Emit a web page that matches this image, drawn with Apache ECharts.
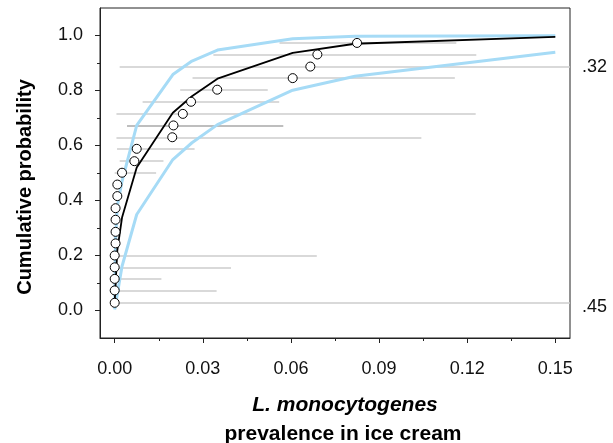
<!DOCTYPE html>
<html>
<head>
<meta charset="utf-8">
<script src="https://cdn.jsdelivr.net/npm/echarts@6/dist/echarts.min.js"></script>
<style>
  html, body { margin: 0; padding: 0; background: #fff; }
  #chart { width: 613px; height: 443px; }
</style>
</head>
<body>
<div id="chart"></div>
<script>
// observed prevalence (x) at each plotting position (y)
var cumProb = [0.028, 0.073, 0.115, 0.157, 0.200, 0.244, 0.286, 0.330, 0.372, 0.416, 0.458, 0.501,
    0.543, 0.588, 0.630, 0.673, 0.715, 0.759, 0.803, 0.845, 0.887, 0.931, 0.973];
var prevalence = [0, 0, 0, 0, 0, 0.0003, 0.0003, 0.0003, 0.0003, 0.0009, 0.0009, 0.0025,
    0.0067, 0.0075, 0.0196, 0.0200, 0.0232, 0.0260, 0.0349, 0.0606, 0.0666, 0.0690, 0.0825];
// interval of each observation (null = none drawn)
var intervalLo = [0, 0, 0, 0, 0, null, null, null, null, null, null, 0,
    0.0017, 0.0008, 0.0006, 0.0042, 0.0006, 0.0095, 0.0223, 0.0265, 0.0017, 0.0336, 0.0561];
var intervalHi = [0.155, 0.0347, 0.0159, 0.0396, 0.0688, null, null, null, null, null, null, 0.0141,
    0.0166, 0.0272, 0.1044, 0.0574, 0.1229, 0.0560, 0.0521, 0.1158, 0.155, 0.1231, 0.1163];
var intervalText = ['.45', '', '', '', '', '', '', '', '', '', '', '', '', '', '', '', '', '', '', '', '.32', '', ''];

// fitted distribution and its bounds
var fitX = [0, 0.0009, 0.0025, 0.0075, 0.0198, 0.0263, 0.035, 0.0606, 0.0818, 0.15];
var fitY = [0.03, 0.22, 0.338, 0.52, 0.719, 0.779, 0.843, 0.937, 0.970, 0.995];
var upperX = [0, 0.0003, 0.0009, 0.0025, 0.0075, 0.0198, 0.0263, 0.035, 0.0606, 0.0818, 0.15];
var upperY = [0.02, 0.26, 0.38, 0.47, 0.673, 0.858, 0.907, 0.947, 0.988, 0.997, 0.999];
var lowerX = [0, 0.0025, 0.0075, 0.0198, 0.0263, 0.035, 0.0606, 0.0818, 0.15];
var lowerY = [0.004, 0.161, 0.349, 0.549, 0.61, 0.676, 0.801, 0.852, 0.939];

var xMajor = [0, 0.03, 0.06, 0.09, 0.12, 0.15];
var xMinor = [0.015, 0.045, 0.075, 0.105, 0.135];
var yMajor = [0, 0.2, 0.4, 0.6, 0.8, 1.0];
var yMinor = [0.1, 0.3, 0.5, 0.7, 0.9];

var FONT = "'Liberation Sans', Arial, sans-serif";

function zip(xs, ys) {
    var ret = [];
    for (var i = 0; i < xs.length; i++) {
        ret.push([xs[i], ys[i]]);
    }
    return ret;
}

function GetIntervalData() {
    var ret = [];
    for (var i = 0; i < cumProb.length; i++) {
        if (intervalLo[i] == null) continue;
        ret.push({
            coords: [[intervalLo[i], cumProb[i]], [intervalHi[i], cumProb[i]]],
            lineStyle: { color: i === 15 ? '#a8a8a8' : '#cdcdcd' }
        });
    }
    return ret;
}

var myChart = echarts.init(document.getElementById('chart'));
var option = {
    animation: false,
    grid: {
        left: 100, right: 43, top: 8, bottom: 105,
        show: true, borderColor: '#222', borderWidth: 1, backgroundColor: '#fff'
    },
    xAxis: [
        {
            type: 'value', min: -0.005, max: 0.155,
            axisLine: { show: true, onZero: false, lineStyle: { color: '#222' } },
            axisTick: { show: true, customValues: xMajor, length: 5, lineStyle: { color: '#222' } },
            axisLabel: {
                customValues: xMajor, margin: 22, fontSize: 18, fontFamily: FONT, color: '#111',
                formatter: function (v) { return v.toFixed(2); }
            },
            splitLine: { show: false }
        },
        {
            type: 'value', min: -0.005, max: 0.155, position: 'bottom',
            axisLine: { show: false, onZero: false },
            axisTick: { show: true, customValues: xMinor, length: 3, lineStyle: { color: '#222' } },
            axisLabel: { show: false },
            splitLine: { show: false }
        }
    ],
    yAxis: [
        {
            type: 'value', min: -0.1, max: 1.1,
            axisLine: { show: true, onZero: false, lineStyle: { color: '#222' } },
            axisTick: { show: true, customValues: yMajor, length: 5, lineStyle: { color: '#222' } },
            axisLabel: {
                customValues: yMajor, margin: 17, fontSize: 18, fontFamily: FONT, color: '#111',
                formatter: function (v) { return v.toFixed(1); }
            },
            splitLine: { show: false }
        },
        {
            type: 'value', min: -0.1, max: 1.1, position: 'left',
            axisLine: { show: false, onZero: false },
            axisTick: { show: true, customValues: yMinor, length: 3, lineStyle: { color: '#222' } },
            axisLabel: { show: false },
            splitLine: { show: false }
        }
    ],
    graphic: [
        {
            type: 'text', x: 25, y: 187, rotation: Math.PI / 2,
            style: {
                text: 'Cumulative probability', fontSize: 20, fontWeight: 'bold', fontFamily: FONT,
                fill: '#000', align: 'center', verticalAlign: 'middle'
            }
        },
        {
            type: 'text', x: 345, y: 405,
            style: {
                text: 'L. monocytogenes', fontSize: 21, fontWeight: 'bold', fontStyle: 'italic',
                fontFamily: FONT, fill: '#000', align: 'center', verticalAlign: 'middle'
            }
        },
        {
            type: 'text', x: 343, y: 434,
            style: {
                text: 'prevalence in ice cream', fontSize: 21, fontWeight: 'bold',
                fontFamily: FONT, fill: '#000', align: 'center', verticalAlign: 'middle'
            }
        }
    ],
    series: [
        {
            type: 'lines', coordinateSystem: 'cartesian2d', xAxisIndex: 0, yAxisIndex: 0,
            silent: true, z: 1,
            lineStyle: { width: 1.5, opacity: 1 },
            data: GetIntervalData()
        },
        {
            type: 'line', data: zip(lowerX, lowerY), showSymbol: false, z: 2,
            lineStyle: { color: '#a6dbf6', width: 3 }
        },
        {
            type: 'line', data: zip(upperX, upperY), showSymbol: false, z: 2,
            lineStyle: { color: '#a6dbf6', width: 3 }
        },
        {
            type: 'line', data: zip(fitX, fitY), showSymbol: false, z: 3,
            lineStyle: { color: '#000', width: 1.8 }
        },
        {
            type: 'scatter', data: zip(prevalence, cumProb), z: 4,
            symbol: 'circle', symbolSize: 9,
            itemStyle: { color: '#fff', borderColor: '#000', borderWidth: 1, opacity: 1 }
        }
    ]
};
myChart.setOption(option);

// labels at the right end of the two full-width intervals
var endLabels = [];
for (var i = 0; i < cumProb.length; i++) {
    if (intervalText[i] === '') continue;
    var pt = myChart.convertToPixel({ gridIndex: 0 }, [intervalHi[i], cumProb[i]]);
    endLabels.push({
        type: 'text', x: pt[0] + 12, y: pt[1] + (cumProb[i] < 0.5 ? 4 : 0),
        style: {
            text: intervalText[i], fontSize: 18, fontFamily: FONT, fill: '#111',
            align: 'left', verticalAlign: 'middle'
        }
    });
}
myChart.setOption({ graphic: option.graphic.concat(endLabels) });
</script>
</body>
</html>
